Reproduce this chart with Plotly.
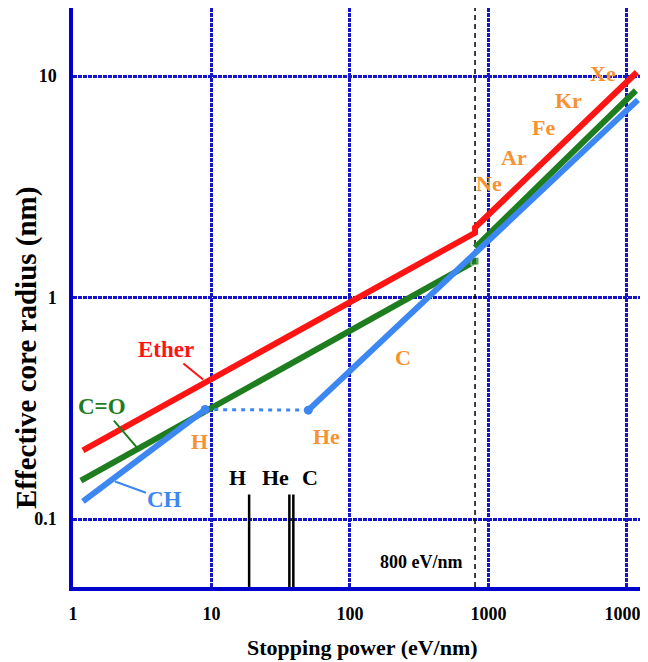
import math
import plotly.graph_objects as go

# ---------------- data ----------------
ether_x1 = [1.18, 800]
ether_y1 = [0.204, 1.96]
ether_x2 = [800, 11800]
ether_y2 = [2.07, 10.4]

co_x1 = [1.14, 800]
co_y1 = [0.149, 1.46]
co_x2 = [800, 11600]
co_y2 = [1.68, 8.6]

ch_x1 = [1.18, 9]
ch_y1 = [0.12, 0.312]
ch_dot_x = [9, 50]
ch_dot_y = [0.312, 0.31]
ch_x2 = [50, 12000]
ch_y2 = [0.31, 7.8]

threshold_x = 800
ion_names = ["H", "He", "C"]
ion_sp = [18.7, 36.5, 39.0]
ion_top = 0.129

orange_labels = ["H", "He", "C", "Ne", "Ar", "Fe", "Kr", "Xe"]
orange_lx = [8.26, 68.2, 241.5, 1009, 1528, 2477, 3811, 6714]
orange_ly = [0.224, 0.236, 0.535, 3.27, 4.29, 5.85, 7.74, 10.25]

x_ticks = [1, 10, 100, 1000, 10000]
x_ticktext = ["1", "10", "100", "1000", "10000"]
y_ticks = [0.1, 1, 10]
y_ticktext = ["0.1", "1", "10"]

x_range = [0.0, 4.152]
y_range = [-1.307, 1.307]

RED = "#FF1414"
GREEN = "#1E7D1E"
BLUE = "#3C87F2"
ORANGE = "#F79233"
GRID = "#1414C8"
AXIS = "#0000CC"
FONT = "Liberation Serif"

# page body adds an 8px margin; the figure is sized so the whole page is 648x662
W, H = 640, 654
ML, MR, MT, MB = 65, 0, 0, 75

fig = go.Figure()

ymin, ymax = 10 ** y_range[0], 10 ** y_range[1]
fig.add_trace(go.Scatter(x=[threshold_x, threshold_x], y=[ymin, ymax], mode="lines",
                         line=dict(color="black", width=1.5, dash="5px,4px"), hoverinfo="skip"))

for sp in ion_sp:
    fig.add_trace(go.Scatter(x=[sp, sp], y=[ion_top, ymin], mode="lines",
                             line=dict(color="black", width=2.5), hoverinfo="skip"))

fig.add_trace(go.Scatter(x=ether_x1 + ether_x2, y=ether_y1 + ether_y2, mode="lines",
                         line=dict(color=RED, width=6)))
fig.add_trace(go.Scatter(x=co_x1, y=co_y1, mode="lines+markers",
                         line=dict(color=GREEN, width=6),
                         marker=dict(symbol="square", size=[0, 8], color=GREEN)))
fig.add_trace(go.Scatter(x=co_x2, y=co_y2, mode="lines",
                         line=dict(color=GREEN, width=6)))
fig.add_trace(go.Scatter(x=ch_x1, y=ch_y1, mode="lines",
                         line=dict(color=BLUE, width=6)))
fig.add_trace(go.Scatter(x=ch_dot_x, y=ch_dot_y, mode="lines+markers",
                         line=dict(color=BLUE, width=3, dash="4px,5px"),
                         marker=dict(size=9, color=BLUE)))
fig.add_trace(go.Scatter(x=ch_x2, y=ch_y2, mode="lines",
                         line=dict(color=BLUE, width=6)))

annos = []
def lg(v):
    return math.log10(v)

for t, lx, ly in zip(orange_labels, orange_lx, orange_ly):
    annos.append(dict(x=lg(lx), y=lg(ly), text=t, showarrow=False,
                      font=dict(family=FONT, size=22, color=ORANGE, weight="bold")))

black_lx = [15.3, 29.2, 51.4]
for t, lx in zip(ion_names, black_lx):
    annos.append(dict(x=lg(lx), y=-0.813, text=t, showarrow=False,
                      font=dict(family=FONT, size=22, color="black", weight="bold")))

annos.append(dict(x=lg(8.7), y=lg(0.426), ax=-37, ay=-30, text="Ether",
                  showarrow=True, arrowhead=0, arrowwidth=2, arrowcolor=RED,
                  font=dict(family=FONT, size=23, color=RED, weight="bold")))
annos.append(dict(x=lg(2.94), y=lg(0.208), ax=-36, ay=-42, text="C=O",
                  showarrow=True, arrowhead=0, arrowwidth=2, arrowcolor=GREEN,
                  font=dict(family=FONT, size=23, color=GREEN, weight="bold")))
annos.append(dict(x=lg(2.01), y=lg(0.1476), ax=50, ay=18, text="CH",
                  showarrow=True, arrowhead=0, arrowwidth=2, arrowcolor=BLUE,
                  font=dict(family=FONT, size=23, color=BLUE, weight="bold")))

annos.append(dict(x=lg(331), y=-1.192, text="800 eV/nm", showarrow=False,
                  font=dict(family=FONT, size=18, color="black", weight="bold")))

PW = W - ML - MR
PH = H - MT - MB
annos.append(dict(xref="paper", yref="paper", x=(362 - 73) / PW, y=(587 - 647) / PH,
                  xanchor="center", yanchor="middle",
                  text="Stopping power (eV/nm)", showarrow=False,
                  font=dict(family=FONT, size=22, color="black", weight="bold")))
annos.append(dict(xref="paper", yref="paper", x=(27 - 73) / PW, y=(587 - 348) / PH,
                  xanchor="center", yanchor="middle",
                  text="Effective core radius (nm)", showarrow=False, textangle=-90,
                  font=dict(family=FONT, size=29, color="black", weight="bold")))

fig.update_layout(
    width=W, height=H,
    margin=dict(l=ML, r=MR, t=MT, b=MB, pad=0, autoexpand=False),
    paper_bgcolor="white", plot_bgcolor="white",
    showlegend=False,
    annotations=annos,
    xaxis=dict(type="log", range=x_range, tickvals=x_ticks, ticktext=x_ticktext,
               showgrid=True, gridcolor=GRID, griddash="4px,1px", gridwidth=2.5,
               showline=True, linecolor=AXIS, linewidth=3.5, mirror=True,
               ticks="outside", ticklen=8, tickcolor="rgba(0,0,0,0)",
               ticklabeloverflow="allow",
               tickfont=dict(family=FONT, size=18, color="black", weight="bold"),
               zeroline=False, automargin=False),
    yaxis=dict(type="log", range=y_range, tickvals=y_ticks, ticktext=y_ticktext,
               showgrid=True, gridcolor=GRID, griddash="4px,1px", gridwidth=2.5,
               showline=True, linecolor=AXIS, linewidth=3.5, mirror=False,
               ticks="outside", ticklen=9, tickcolor="rgba(0,0,0,0)",
               ticklabeloverflow="allow",
               tickfont=dict(family=FONT, size=18, color="black", weight="bold"),
               zeroline=False, automargin=False),
)

fig.write_html("out.html")
